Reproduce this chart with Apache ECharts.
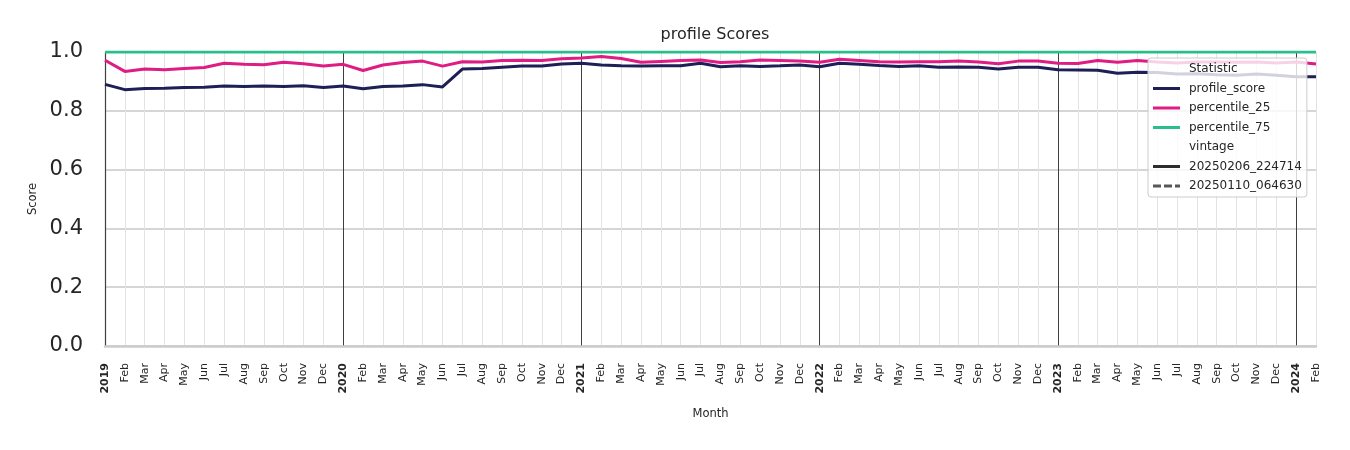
<!DOCTYPE html>
<html>
<head>
<meta charset="utf-8">
<script src="https://cdn.jsdelivr.net/npm/echarts@6/dist/echarts.min.js"></script>
<style>html,body{margin:0;padding:0;background:#fff;}#c{width:1350px;height:450px;}</style>
</head>
<body>
<div id="c"></div>
<script>
// ---- data ----
const years = ['2019','2020','2021','2022','2023','2024'];
const monthNames = ['Jan','Feb','Mar','Apr','May','Jun','Jul','Aug','Sep','Oct','Nov','Dec'];
const categories = [];
years.forEach(function(y){ monthNames.forEach(function(m, i){ categories.push(y + '-' + (i < 9 ? '0' : '') + (i + 1)); }); });
categories.length = 62; // Jan 2019 .. Feb 2024

const profileScore = [
  0.890, 0.872, 0.876, 0.877, 0.879, 0.880, 0.884, 0.883, 0.884, 0.883, 0.885, 0.879,
  0.884, 0.875, 0.883, 0.884, 0.889, 0.881, 0.942, 0.944, 0.948, 0.952, 0.952, 0.959,
  0.962, 0.956, 0.953, 0.952, 0.953, 0.953, 0.962, 0.950, 0.953, 0.951, 0.953, 0.956,
  0.950, 0.962, 0.958, 0.954, 0.951, 0.953, 0.948, 0.949, 0.948, 0.942, 0.948, 0.948,
  0.940, 0.939, 0.938, 0.928, 0.931, 0.930, 0.925, 0.926, 0.923, 0.921, 0.925, 0.921,
  0.916, 0.916
];
const percentile25 = [
  0.972, 0.934, 0.942, 0.940, 0.944, 0.947, 0.962, 0.958, 0.957, 0.965, 0.960, 0.952,
  0.958, 0.937, 0.956, 0.964, 0.969, 0.952, 0.967, 0.966, 0.971, 0.972, 0.971, 0.977,
  0.980, 0.985, 0.978, 0.965, 0.968, 0.971, 0.973, 0.964, 0.967, 0.973, 0.971, 0.969,
  0.965, 0.975, 0.971, 0.967, 0.966, 0.967, 0.967, 0.969, 0.966, 0.960, 0.969, 0.969,
  0.962, 0.961, 0.971, 0.965, 0.971, 0.966, 0.963, 0.966, 0.966, 0.965, 0.966, 0.963,
  0.966, 0.959
];
const percentile75 = [
  1.0, 1.0, 1.0, 1.0, 1.0, 1.0, 1.0, 1.0, 1.0, 1.0, 1.0, 1.0,
  1.0, 1.0, 1.0, 1.0, 1.0, 1.0, 1.0, 1.0, 1.0, 1.0, 1.0, 1.0,
  1.0, 1.0, 1.0, 1.0, 1.0, 1.0, 1.0, 1.0, 1.0, 1.0, 1.0, 1.0,
  1.0, 1.0, 1.0, 1.0, 1.0, 1.0, 1.0, 1.0, 1.0, 1.0, 1.0, 1.0,
  1.0, 1.0, 1.0, 1.0, 1.0, 1.0, 1.0, 1.0, 1.0, 1.0, 1.0, 1.0,
  1.0, 1.0
];
const yTicks = [0, 0.2, 0.4, 0.6, 0.8, 1.0];

// ---- chart ----
const FONT = 'DejaVu Sans';
const TXT = '#262626';
const NAVY = '#1e1f56', MAGENTA = '#df1b84', GREEN = '#29be8a', VINT = '#2d2d2d';

const splitColors = ['#3f3f3f'];
for (let i = 0; i < 11; i++) splitColors.push('#e3e3e3');

const SOLID_ICON = 'rect';
const DASH_ICON = 'path://M0,0H8V3H0Z M11,0H19V3H11Z M22,0H27V3H22Z';

function lineSeries(name, data, color, z) {
  return {
    name: name, type: 'line', data: data, symbol: 'none', showSymbol: false,
    lineStyle: { color: color, width: 3 }, itemStyle: { color: color },
    z: z, silent: true, emphasis: { disabled: true }
  };
}
function dummy(name, color, type) {
  return {
    name: name, type: 'line', data: [], symbol: 'none',
    lineStyle: { color: color, width: 3, type: type || 'solid' },
    itemStyle: { color: color }
  };
}

const option = {
  animation: false,
  backgroundColor: '#ffffff',
  textStyle: { fontFamily: FONT },
  title: {
    text: 'profile Scores', left: 710, top: 22, textAlign: 'center',
    textStyle: { fontFamily: FONT, fontSize: 16, fontWeight: 'normal', color: TXT }
  },
  grid: { left: 105, right: 34, top: 52, bottom: 104, containLabel: false },
  legend: {
    orient: 'vertical', left: 1148, top: 58,
    padding: [3, 5, 3, 5], itemGap: 3.5, itemWidth: 27, itemHeight: 3,
    backgroundColor: 'rgba(255,255,255,0.8)', borderColor: '#cccccc', borderWidth: 1, borderRadius: 3,
    selectedMode: false,
    textStyle: { fontFamily: FONT, fontSize: 12, color: TXT, padding: [0, 0, 0, 4], lineHeight: 16 },
    data: [
      { name: 'Statistic', icon: 'none' },
      { name: 'profile_score', icon: SOLID_ICON },
      { name: 'percentile_25', icon: SOLID_ICON },
      { name: 'percentile_75', icon: SOLID_ICON },
      { name: 'vintage', icon: 'none' },
      { name: '20250206_224714', icon: SOLID_ICON },
      { name: '20250110_064630', icon: DASH_ICON }
    ],
    z: 10
  },
  xAxis: {
    type: 'category', data: categories, boundaryGap: false,
    name: 'Month', nameLocation: 'middle', nameGap: 62,
    nameTextStyle: { fontFamily: FONT, fontSize: 11.5, color: TXT },
    axisLine: { show: true, lineStyle: { color: '#cccccc', width: 2.5 } },
    axisTick: { show: false },
    axisLabel: {
      interval: 0, rotate: 90, margin: 17, color: TXT, fontFamily: FONT, fontSize: 11,
      formatter: function (v) {
        const m = parseInt(v.slice(5), 10);
        return m === 1 ? '{y|' + v.slice(0, 4) + '}' : monthNames[m - 1];
      },
      rich: { y: { fontWeight: 'bold', fontFamily: FONT, fontSize: 11, color: TXT } }
    },
    splitLine: { show: true, interval: 0, lineStyle: { color: splitColors, width: 1 } }
  },
  yAxis: {
    type: 'value', min: yTicks[0], max: yTicks[yTicks.length - 1], interval: 0.2,
    name: 'Score', nameLocation: 'middle', nameGap: 66,
    nameTextStyle: { fontFamily: FONT, fontSize: 11.5, color: TXT },
    axisLine: { show: true, lineStyle: { color: '#3f3f3f', width: 1.2 } },
    axisTick: { show: false },
    axisLabel: {
      margin: 22, color: TXT, fontFamily: FONT, fontSize: 21,
      formatter: function (v) { return v.toFixed(1); }
    },
    splitLine: { show: true, lineStyle: { color: '#c8c8c8', width: 1.5 } }
  },
  series: [
    dummy('Statistic', 'rgba(0,0,0,0)'),
    lineSeries('profile_score', profileScore, NAVY, 3),
    lineSeries('percentile_25', percentile25, MAGENTA, 3),
    lineSeries('percentile_75', percentile75, GREEN, 3),
    dummy('vintage', 'rgba(0,0,0,0)'),
    dummy('20250206_224714', VINT, 'solid'),
    { name: '20250110_064630', type: 'scatter', data: [], itemStyle: { color: VINT } }
  ]
};
const chart = echarts.init(document.getElementById('c'), null, { renderer: 'canvas' });
chart.setOption(option);
</script>
</body>
</html>
